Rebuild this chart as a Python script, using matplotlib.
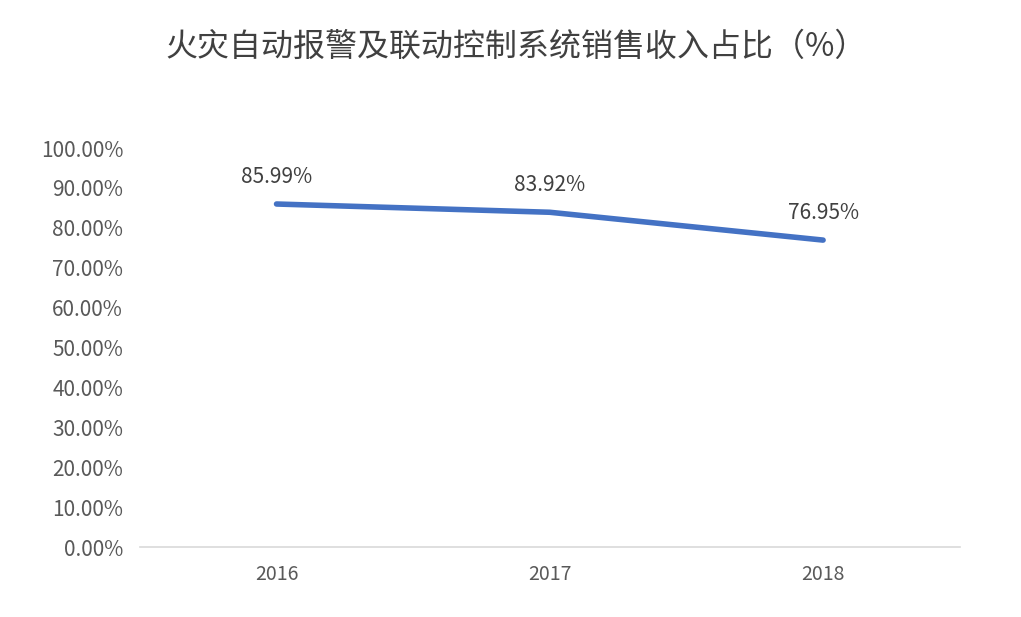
import matplotlib.pyplot as plt

plt.rcParams['font.family'] = ['Noto Sans CJK SC', 'DejaVu Sans']

years = ["2016", "2017", "2018"]
share = [85.99, 83.92, 76.95]
yticks = [0, 10, 20, 30, 40, 50, 60, 70, 80, 90, 100]

fig = plt.figure(figsize=(10.21, 6.17), dpi=100)
ax = fig.add_axes([0.137, 0.113, 0.803, 0.647])
x = range(len(years))
ax.plot(x, share, color='#4472C4', linewidth=4, solid_capstyle='round')
for xi, v in zip(x, share):
    ax.text(xi, v + 4, f"{v:.2f}%", ha='center', va='bottom', fontsize=15, color='#404040')

ax.set_xlim(-0.5, 2.5)
ax.set_ylim(0, 100)
ax.set_xticks(list(x))
ax.set_xticklabels(years, fontsize=14, color='#595959')
ax.set_yticks(yticks)
ax.set_yticklabels([f"{t:.2f}%" for t in yticks], fontsize=15, color='#595959')
ax.tick_params(length=0, pad=12)
for s in ['top', 'right', 'left']:
    ax.spines[s].set_visible(False)
ax.spines['bottom'].set_color('#D9D9D9')
ax.spines['bottom'].set_linewidth(1.2)

fig.text(0.505, 0.925, "火灾自动报警及联动控制系统销售收入占比（%）", ha='center', va='center',
         fontsize=23, color='#404040')

fig.savefig('out.png', dpi=100)
